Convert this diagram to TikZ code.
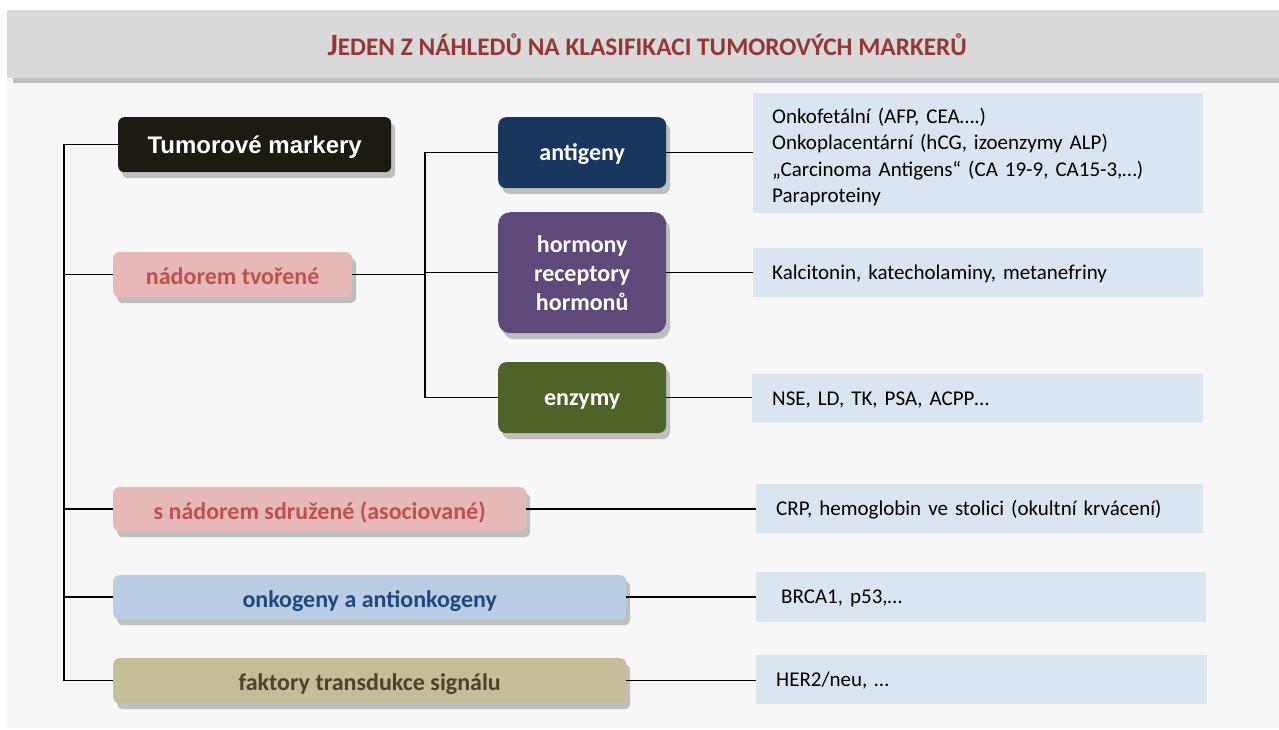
\documentclass[tikz,border=0pt]{standalone}
\usepackage{fontspec}
\setmainfont{Carlito}
\newfontfamily\arialfont{Liberation Sans}
\usetikzlibrary{shadows}

\definecolor{headgray}{HTML}{D9D9D9}
\definecolor{shadowgray}{HTML}{BFBFBF}
\definecolor{bodygray}{HTML}{F7F7F7}
\definecolor{titlered}{HTML}{953735}
\definecolor{nearblack}{HTML}{1D1A12}
\definecolor{pinkfill}{HTML}{E6B9B8}
\definecolor{pinktext}{HTML}{C0504D}
\definecolor{bluefill}{HTML}{B9CDE5}
\definecolor{bluetext}{HTML}{1F497D}
\definecolor{khakifill}{HTML}{C4BD97}
\definecolor{khakitext}{HTML}{4A452A}
\definecolor{navy}{HTML}{17375E}
\definecolor{plum}{HTML}{5F497A}
\definecolor{olive}{HTML}{4F6228}
\definecolor{infoblue}{HTML}{DBE5F1}

\tikzset{
  conn/.style={draw=black, line width=1.5pt},
  boxshadow/.style={drop shadow={shadow xshift=4pt, shadow yshift=-6pt, fill=shadowgray, opacity=1}},
  catbox/.style={rounded corners=6pt, boxshadow, anchor=north west, inner sep=0pt,
    font=\fontsize{24}{28}\selectfont\bfseries, text height=20pt, text depth=0pt},
  subbox/.style={rounded corners=8pt, boxshadow, anchor=north west, inner sep=0pt,
    minimum width=168pt, text=white, align=center,
    font=\fontsize{24}{29}\selectfont\bfseries},
  infobox/.style={fill=infoblue, anchor=north west, inner ysep=0pt, align=left,
    font=\fontsize{21}{26.5}\selectfont, text height=13pt, text depth=0pt},
}

\begin{document}
\begin{tikzpicture}[x=1pt, y=-1pt]
  \useasboundingbox (0,0) rectangle (1279,729);

  % page body and title band
  \fill[bodygray] (7,78) rectangle (1279,728);
  \node[anchor=north west, fill=headgray, minimum width=1280pt, minimum height=68pt,
        inner sep=0pt, text=titlered, font=\bfseries, text height=22pt, text depth=0pt,
        drop shadow={shadow xshift=6pt, shadow yshift=-5pt, fill=shadowgray, opacity=1}]
    (header) at (7,10)
    {{\fontsize{31}{31}\selectfont J}{\fontsize{25.3}{30}\selectfont EDEN Z NÁHLEDŮ NA KLASIFIKACI TUMOROVÝCH MARKERŮ}};

  % first level
  \node[catbox, fill=nearblack, text=white, minimum width=273pt, minimum height=55pt,
        font=\arialfont\fontsize{24}{28}\selectfont\bfseries, text height=17pt]
    (tm) at (118,117) {Tumorové markery};
  \node[catbox, fill=pinkfill, text=pinktext, minimum width=239pt, minimum height=45pt]
    (nt) at (113,252) {nádorem tvořené};
  \node[catbox, fill=pinkfill, text=pinktext, minimum width=413pt, minimum height=44pt]
    (sn) at (113,487) {s nádorem sdružené (asociované)};
  \node[catbox, fill=bluefill, text=bluetext, minimum width=513pt, minimum height=44pt]
    (onk) at (113,575) {onkogeny a antionkogeny};
  \node[catbox, fill=khakifill, text=khakitext, minimum width=513pt, minimum height=45pt]
    (sig) at (113,658) {faktory transdukce signálu};

  % second level
  \node[subbox, fill=navy, minimum height=71pt, text height=15pt, text depth=0pt]
    (ant) at (498,117) {antigeny};
  \node[subbox, fill=plum, minimum height=121pt, rounded corners=12pt]
    (hor) at (498,212) {hormony\\receptory\\hormonů};
  \node[subbox, fill=olive, minimum height=71pt, text height=15pt, text depth=0pt]
    (enz) at (498,362) {enzymy};

  % examples
  \node[infobox, inner xsep=19pt, text width=412pt, minimum height=120pt,
        text height=20pt, text depth=79.5pt]
    (r1) at (753,93)
    {Onkofetální (AFP, CEA….)\\Onkoplacentární (hCG, izoenzymy ALP)\\„Carcinoma Antigens“ (CA 19-9, CA15-3,…)\\Paraproteiny};
  \node[infobox, inner xsep=19pt, text width=412pt, minimum height=49pt]
    (r2) at (753,248) {Kalcitonin, katecholaminy, metanefriny};
  \node[infobox, inner xsep=20pt, text width=411pt, minimum height=49pt]
    (r3) at (752,374) {NSE, LD, TK, PSA, ACPP…};
  \node[infobox, inner xsep=20pt, text width=407pt, minimum height=49pt]
    (r4) at (756,484) {CRP, hemoglobin ve stolici (okultní krvácení)};
  \node[infobox, inner xsep=25pt, text width=400pt, minimum height=50pt]
    (r5) at (756,572) {BRCA1, p53,…};
  \node[infobox, inner xsep=20pt, text width=411pt, minimum height=49pt]
    (r6) at (756,655) {HER2/neu, …};

  % main trunk
  \coordinate (trunk) at (64,0);
  \draw[conn] (tm.west) -| (trunk |- sig.west) -- (sig.west);
  \foreach \n in {nt,sn,onk}
    \draw[conn] (trunk |- \n.west) -- (\n.west);

  % branch of tumour-produced markers
  \coordinate (branch) at (425,0);
  \draw[conn] (nt.east) -- (branch |- nt.east);
  \draw[conn] (ant.west) -| (branch |- enz.west) -- (enz.west);
  \draw[conn] (branch |- hor.west) -- (hor.west);

  % links to examples
  \draw[conn] (ant.east) -- (r1.west |- ant.east);
  \draw[conn] (hor.east) -- (r2.west |- hor.east);
  \draw[conn] (enz.east) -- (r3.west |- enz.east);
  \draw[conn] (sn.east) -- (r4.west |- sn.east);
  \draw[conn] (onk.east) -- (r5.west |- onk.east);
  \draw[conn] (sig.east) -- (r6.west |- sig.east);
\end{tikzpicture}
\end{document}
